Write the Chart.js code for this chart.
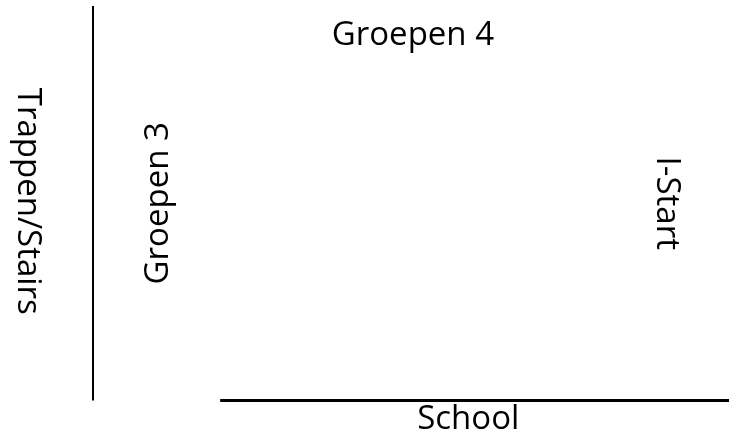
<!DOCTYPE html>
<html>
<head>
<meta charset="utf-8">
<script src="https://cdn.jsdelivr.net/npm/chart.js@4.4.1/dist/chart.umd.min.js"></script>
<style>
  html, body { margin: 0; padding: 0; background: #fff; }
  #wrap { width: 729px; height: 448px; }
</style>
</head>
<body>
<div id="wrap"><canvas id="diagram"></canvas></div>
<script>
// groups placed along School (x) and Trappen/Stairs (y), both 0..100
const groups = ['Groepen 3', 'Groepen 4', 'I-Start'];
const groupSchool = [10.3, 50.3, 90.2];
const groupStairs = [50, 92.5, 50];

const xTitle = 'School';
const yTitle = 'Trappen/Stairs';

// extent of the two axis lines
const schoolLine = [20, 100];
const stairsLine = [0, 100];

const FONT = '33px "Open Sans", "Noto Sans", sans-serif';
const labelAngles = [-90, 0, 90];

const textPlugin = {
  id: 'diagramText',
  afterDatasetsDraw(chart) {
    const ctx = chart.ctx;
    const xs = chart.scales.x;
    const ys = chart.scales.y;
    const area = chart.chartArea;

    const put = (text, x, y, angle) => {
      ctx.save();
      ctx.translate(x, y);
      ctx.rotate(angle * Math.PI / 180);
      ctx.font = FONT;
      ctx.fillStyle = '#000';
      ctx.textAlign = 'center';
      ctx.textBaseline = 'middle';
      ctx.fillText(text, 0, 0);
      ctx.restore();
    };

    const meta = chart.getDatasetMeta(0);
    meta.data.forEach((pt, i) => put(groups[i], pt.x, pt.y, labelAngles[i]));

    put(xTitle, xs.getPixelForValue(59), area.bottom + 19, 0);
    put(yTitle, area.left - 66, ys.getPixelForValue(50.5), 90);
  }
};

const ctx = document.getElementById('diagram').getContext('2d');
new Chart(ctx, {
  type: 'scatter',
  data: {
    datasets: [
      {
        label: 'groups',
        data: groups.map((g, i) => ({ x: groupSchool[i], y: groupStairs[i] })),
        pointRadius: 0,
        showLine: false,
      },
      {
        label: xTitle,
        data: schoolLine.map(v => ({ x: v, y: 0 })),
        showLine: true,
        borderColor: '#000',
        borderWidth: 3,
        pointRadius: 0,
        clip: false,
      },
      {
        label: yTitle,
        data: stairsLine.map(v => ({ x: 0, y: v })),
        showLine: true,
        borderColor: '#000',
        borderWidth: 2,
        pointRadius: 0,
        clip: false,
      },
    ],
  },
  options: {
    responsive: true,
    maintainAspectRatio: false,
    animation: false,
    layout: { padding: { left: 93, top: 6, right: 0, bottom: 47.5 } },
    plugins: { legend: { display: false }, tooltip: { enabled: false } },
    scales: {
      x: { type: 'linear', min: 0, max: 100, display: false },
      y: { type: 'linear', min: 0, max: 100, display: false },
    },
  },
  plugins: [textPlugin],
});
</script>
</body>
</html>
